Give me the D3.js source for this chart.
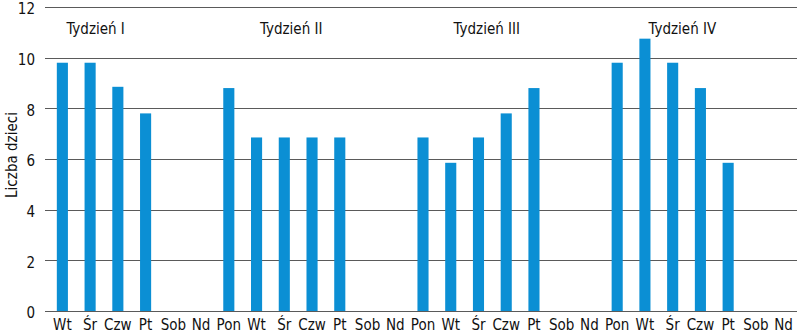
<!DOCTYPE html>
<html>
<head>
<meta charset="utf-8">
<script src="https://cdn.jsdelivr.net/npm/d3@7"></script>
<style>
  body { margin: 0; background: #fff; }
  svg { display: block; }
  text { font-family: "Liberation Sans Narrow", "DejaVu Sans Condensed", sans-serif; font-stretch: condensed; fill: #111; }
</style>
</head>
<body>
<div id="chart"></div>
<script>
// days shown on the x axis, week by week
var days = ["Wt", "Śr", "Czw", "Pt", "Sob", "Nd",
            "Pon", "Wt", "Śr", "Czw", "Pt", "Sob", "Nd",
            "Pon", "Wt", "Śr", "Czw", "Pt", "Sob", "Nd",
            "Pon", "Wt", "Śr", "Czw", "Pt", "Sob", "Nd"];
var children = [9.8, 9.8, 8.85, 7.8, null, null,
                8.8, 6.85, 6.85, 6.85, 6.85, null, null,
                6.85, 5.85, 6.85, 7.8, 8.8, null, null,
                9.8, 10.75, 9.8, 8.8, 5.85, null, null];
var weekNames = ["Tydzień I", "Tydzień II", "Tydzień III", "Tydzień IV"];
var weekTitleAt = [1.2, 8.25, 15.3, 22.35];   // position in day slots
var yTicks = [0, 2, 4, 6, 8, 10, 12];

var W = 800, H = 332;
var plotTop = 7, plotBottom = 311, gridLeft = 45, gridRight = 797;

var svg = d3.select("#chart").append("svg")
    .attr("width", W).attr("height", H);

var data = days.map(function(d, i) { return { id: i, day: d, value: children[i] }; });

var x = d3.scaleBand()
    .domain(data.map(function(d) { return d.id; }))
    .range([48.5, 797.5])
    .paddingInner(0.6)
    .paddingOuter(0.3);

var y = d3.scaleLinear().domain([0, 12]).range([plotBottom, plotTop]);

// grid
svg.append("g")
    .selectAll("line")
    .data(yTicks)
    .enter().append("line")
    .attr("x1", gridLeft).attr("x2", gridRight)
    .attr("y1", function(d) { return Math.round(y(d)) + 0.5; })
    .attr("y2", function(d) { return Math.round(y(d)) + 0.5; })
    .attr("stroke", "#5a5a5a")
    .attr("stroke-width", 1);

// y tick labels
svg.append("g")
    .selectAll("text")
    .data(yTicks)
    .enter().append("text")
    .attr("x", 35)
    .attr("y", function(d) { return y(d); })
    .attr("dy", "0.48em")
    .attr("text-anchor", "end")
    .style("font-size", "15px")
    .text(function(d) { return d; });

svg.append("text")
    .attr("transform", "translate(17,155) rotate(-90)")
    .attr("text-anchor", "middle")
    .style("font-size", "15px")
    .text("Liczba dzieci");

// bars
svg.selectAll(".bar")
    .data(data.filter(function(d) { return d.value != null; }))
    .enter().append("rect")
    .attr("class", "bar")
    .attr("x", function(d) { return x(d.id); })
    .attr("width", x.bandwidth())
    .attr("y", function(d) { return y(d.value); })
    .attr("height", function(d) { return y(0) - y(d.value); })
    .attr("fill", "#0b8fd4");

// x labels
svg.append("g")
    .selectAll("text")
    .data(data)
    .enter().append("text")
    .attr("x", function(d) { return x(d.id) + x.bandwidth() / 2; })
    .attr("y", 329.5)
    .attr("text-anchor", "middle")
    .style("font-size", "15px")
    .text(function(d) { return d.day; });

// week titles
var step = x.step();
var first = x(0) + x.bandwidth() / 2;
svg.append("g")
    .selectAll("text")
    .data(weekNames)
    .enter().append("text")
    .attr("x", function(d, i) { return first + weekTitleAt[i] * step; })
    .attr("y", 34)
    .attr("text-anchor", "middle")
    .style("font-size", "15px")
    .text(function(d) { return d; });
</script>
</body>
</html>
